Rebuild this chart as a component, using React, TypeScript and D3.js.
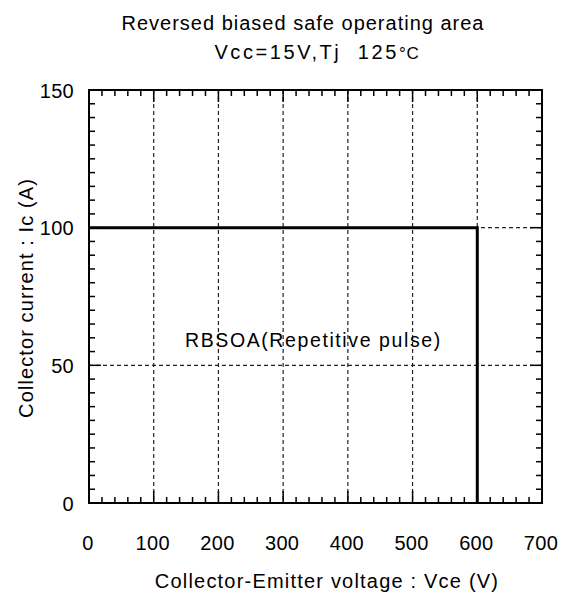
import React from "react";
import * as d3 from "d3";

const xTicks = [0, 100, 200, 300, 400, 500, 600, 700];
const yTicks = [0, 50, 100, 150];
const vce = [0, 600, 600];
const ic = [100, 100, 0];
const titleLines = ["Reversed biased safe operating area", "Vcc=15V,Tj  125"];

export default function App() {
  const W = 561, H = 595;
  const m = { l: 89, r: 542, t: 90, b: 503 };
  const x = d3.scaleLinear().domain([0, 700]).range([m.l, m.r]);
  const y = d3.scaleLinear().domain([0, 150]).range([m.b, m.t]);
  const line = d3.line<number>().x((_, i) => x(vce[i])).y((_, i) => y(ic[i]));
  const xMinor = d3.range(0, 701, 20);
  const yMinor = d3.range(0, 151, 5);
  const font = "'Liberation Sans', Arial, sans-serif";
  const gridX = xTicks.filter((v) => v > 0 && v < 700);
  const gridY = yTicks.filter((v) => v > 0 && v < 150);
  return (
    <svg width={W} height={H} style={{ position: "absolute", left: 0, top: 0 }} fontFamily={font}>
      <rect width={W} height={H} fill="#fff" />
      <g fontSize={20} textAnchor="middle" fill="#000" letterSpacing={1}>
        <text x={303} y={30}>{titleLines[0]}</text>
        <text x={317} y={59} letterSpacing={2.6} style={{ whiteSpace: "pre" }}>
          {titleLines[1]}
          <tspan fontSize={17} letterSpacing={0.8}>°C</tspan>
        </text>
      </g>
      {gridX.map((v) => (
        <line key={"gx" + v} x1={x(v)} x2={x(v)} y1={m.t} y2={m.b} stroke="#222" strokeWidth={1.2} strokeDasharray="4,3" />
      ))}
      {gridY.map((v) => (
        <line key={"gy" + v} x1={m.l} x2={m.r} y1={y(v)} y2={y(v)} stroke="#222" strokeWidth={1.2} strokeDasharray="4,3" />
      ))}
      {xMinor.map((v) => {
        const major = v % 100 === 0;
        const len = major ? 12 : 6;
        return (
          <g key={"xt" + v}>
            <line x1={x(v)} x2={x(v)} y1={m.b} y2={m.b - len} stroke="#000" strokeWidth={1.5} />
            <line x1={x(v)} x2={x(v)} y1={m.t} y2={m.t + len} stroke="#000" strokeWidth={1.5} />
          </g>
        );
      })}
      {yMinor.map((v) => {
        const major = v % 50 === 0;
        const len = major ? 12 : 6;
        return (
          <g key={"yt" + v}>
            <line x1={m.l} x2={m.l + len} y1={y(v)} y2={y(v)} stroke="#000" strokeWidth={1.5} />
            <line x1={m.r} x2={m.r - len} y1={y(v)} y2={y(v)} stroke="#000" strokeWidth={1.5} />
          </g>
        );
      })}
      <rect x={m.l} y={m.t} width={m.r - m.l} height={m.b - m.t} fill="none" stroke="#000" strokeWidth={2} />
      <path d={line(vce) || ""} fill="none" stroke="#000" strokeWidth={3} />
      <text x={185} y={347} fontSize={19.5} textAnchor="start" letterSpacing={1.6}>RBSOA(Repetitive pulse)</text>
      <g fontSize={20} fill="#000" letterSpacing={0.3}>
        {xTicks.map((v) => (
          <text key={"xl" + v} x={x(v) - 1} y={550} textAnchor="middle">{v}</text>
        ))}
        {yTicks.map((v) => (
          <text key={"yl" + v} x={74} y={y(v) + 7.5} textAnchor="end">{v}</text>
        ))}
      </g>
      <text x={327} y={588} fontSize={20} textAnchor="middle" letterSpacing={1.2}>Collector-Emitter voltage : Vce (V)</text>
      <text transform={`translate(33,${298}) rotate(-90)`} fontSize={20} textAnchor="middle" letterSpacing={1.1}>Collector current : Ic (A)</text>
    </svg>
  );
}
